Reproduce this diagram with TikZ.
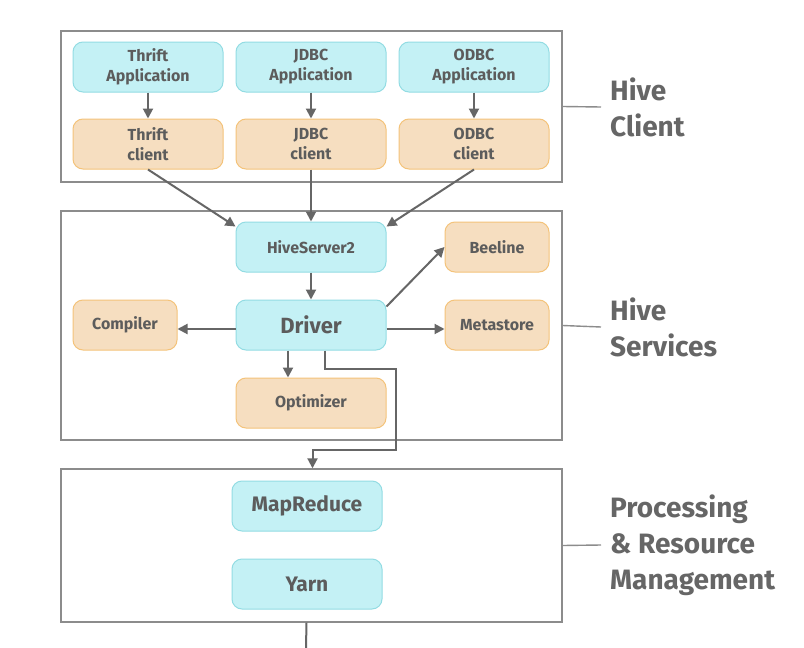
\documentclass[tikz,border=0pt]{standalone}
\usepackage{fontspec}
\setmainfont{Fira Sans}
\usepackage{tikz}
\usetikzlibrary{positioning,arrows.meta}

\definecolor{cyanfill}{HTML}{C4F1F5}
\definecolor{cyanline}{HTML}{93DCE3}
\definecolor{peachfill}{HTML}{F6DEC0}
\definecolor{peachline}{HTML}{F4C37A}
\definecolor{inkgrey}{HTML}{5C5C5C}
\definecolor{wiregrey}{HTML}{666666}
\definecolor{framegrey}{HTML}{8C8C8C}

\tikzset{
  part/.style={draw, rounded corners=10pt, line width=1pt, text=inkgrey,
    minimum width=150pt, minimum height=50pt, align=center,
    font=\fontsize{16}{20}\selectfont\bfseries},
  cpart/.style={part, fill=cyanfill, draw=cyanline},
  opart/.style={part, fill=peachfill, draw=peachline},
  narrow/.style={minimum width=104pt},
  frame/.style={draw=framegrey, line width=1.4pt, minimum width=501pt},
  tag/.style={anchor=west, align=left, text=wiregrey, inner xsep=9pt,
    font=\fontsize{28}{36}\selectfont\bfseries},
  arr/.style={draw=wiregrey, line width=2pt, -{Triangle[length=10pt,width=10pt]}},
  tick/.style={draw=framegrey, line width=1.4pt}
}

\begin{document}
\begin{tikzpicture}[x=1pt,y=-1pt,on grid,node distance=163pt]
				\useasboundingbox[fill=white] (0,0) rectangle (804,648);
				% frames
				\node[frame, minimum height=151pt] (cframe) at (311.5,106.5) {};
				\node[frame, minimum height=229pt] (sframe) at (311.5,325.5) {};
				\node[frame, minimum height=153pt] (pframe) at (311.5,545.5) {};
				% hive client
				\node[cpart] (tapp) at (148,67) {Thrift\\Application};
				\node[cpart] (japp) [right=of tapp] {JDBC\\Application};
				\node[cpart] (oapp) [right=of japp] {ODBC\\Application};
				\node[opart] (tcl) [below=77pt of tapp] {Thrift\\client};
				\node[opart] (jcl) [below=77pt of japp] {JDBC\\client};
				\node[opart] (ocl) [below=77pt of oapp] {ODBC\\client};
				% hive services
				\node[cpart] (hs2) [below=103pt of jcl] {HiveServer2};
				\node[cpart, font=\fontsize{22}{24}\selectfont\bfseries] (drv) [below=78pt of hs2] {Driver};
				\node[opart] (opt) [below=78pt of drv] {Optimizer};
				\node[opart, narrow] (cmp) [left=186pt of drv] {Compiler};
				\node[opart, narrow] (met) [right=186pt of drv] {Metastore};
				\node[opart, narrow] (bee) [right=186pt of hs2] {Beeline};
				% processing
				\node[cpart, font=\fontsize{21}{24}\selectfont\bfseries] (mr) at (307,506) {MapReduce};
				\node[cpart, font=\fontsize{21}{24}\selectfont\bfseries] (yarn) [below=78pt of mr] {Yarn};
				\coordinate (exit) at (306,648);
				% side labels
				\node[tag] (clab) at (601,107) {Hive\\Client};
				\node[tag] (slab) at (601,327) {Hive\\Services};
				\node[tag] (plab) at (601,545) {Processing\\\& Resource\\Management};
				\path[tick] (cframe.east) -- (clab.west);
				\path[tick] (sframe.east) -- (slab.west);
				\path[tick] (pframe.east) -- (plab.west);
				% arrows
				\path[arr] (tapp) -- (tcl);
				\path[arr] (japp) -- (jcl);
				\path[arr] (oapp) -- (ocl);
				\path[arr] (tcl.south) -- ([yshift=-5pt]hs2.north west);
				\path[arr] (jcl.south) -- (hs2.north);
				\path[arr] (ocl.south) -- ([yshift=-5pt]hs2.north east);
				\path[arr] (hs2) -- (drv);
				\path[arr] ([yshift=-4pt]drv.west) -- ([yshift=-4pt]cmp.east);
				\path[arr] ([yshift=-4pt]drv.east) -- ([yshift=-4pt]met.west);
				\path[arr] ([yshift=-7pt]drv.north east) -- (bee.west);
				\path[arr] ([xshift=-23pt]drv.south) -- ([xshift=-23pt]opt.north);
				\path[arr] ([xshift=14pt]drv.south) -- ++(0,18) -| ++(71,81) -| ([xshift=1pt]pframe.north);
				\path[draw=wiregrey, line width=2pt] ([xshift=-5pt]pframe.south) -- (exit);
			\end{tikzpicture}
\end{document}
